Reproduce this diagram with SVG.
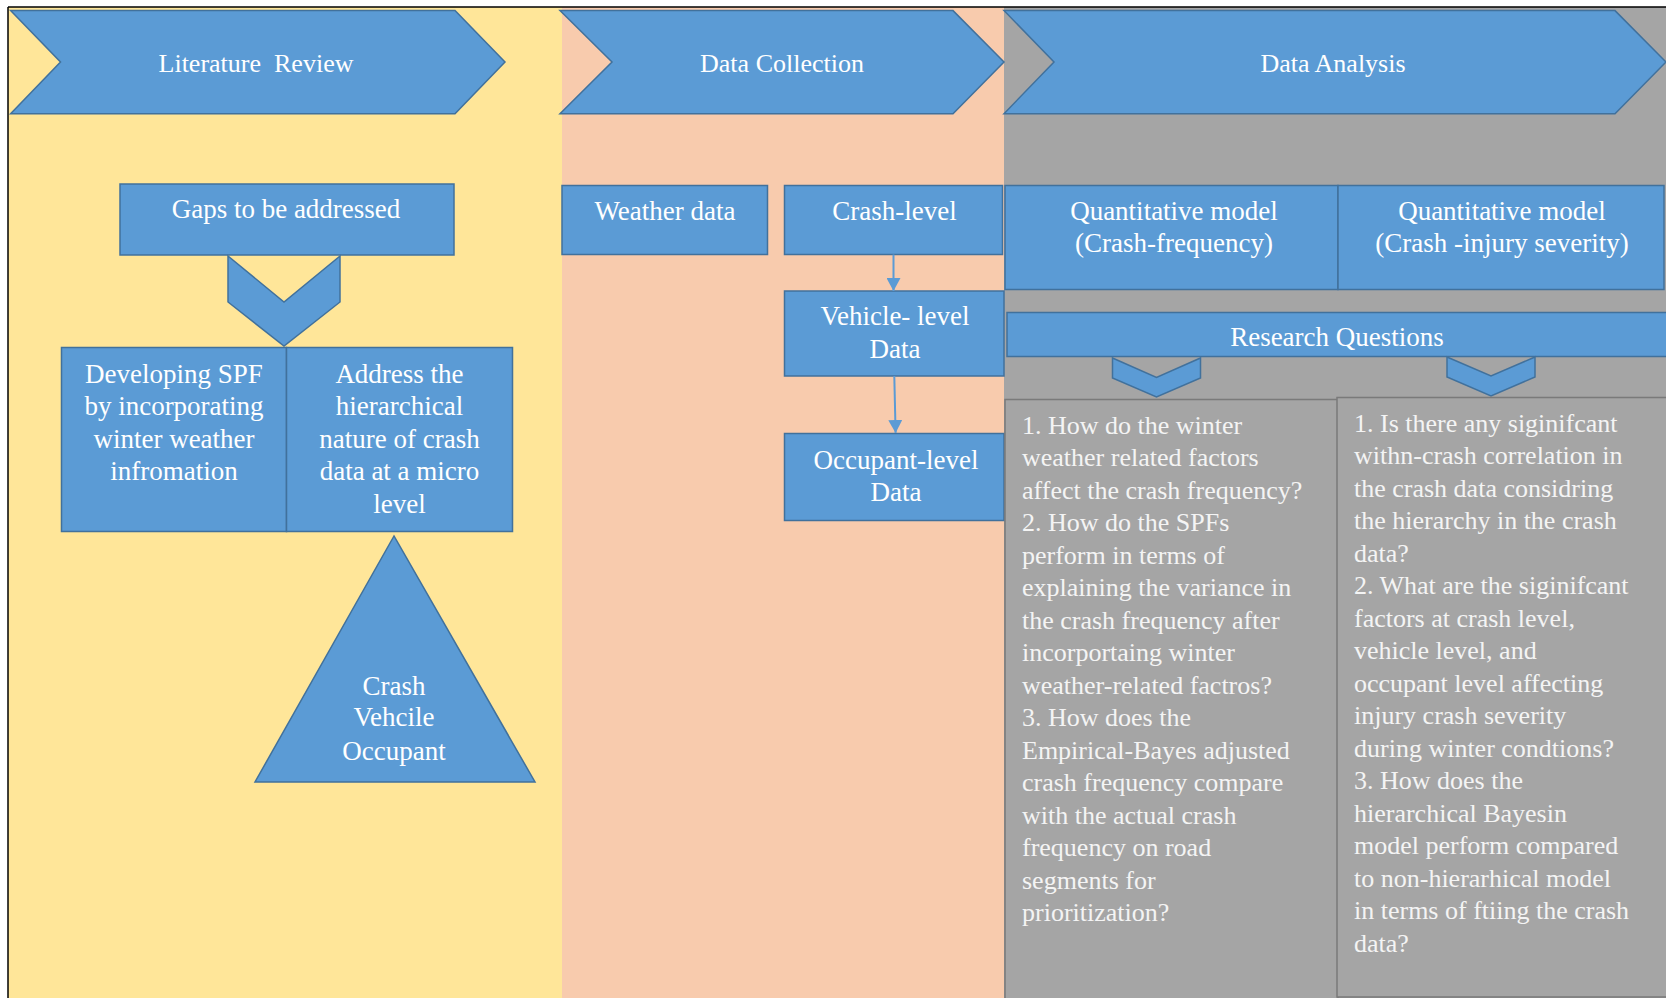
<svg xmlns="http://www.w3.org/2000/svg" width="1666" height="998" viewBox="0 0 1666 998">
<style>
.blue{fill:#5B9BD5;stroke:#41719C;stroke-width:1.5}
.qbox{fill:#A5A5A5;stroke:#7A7A7A;stroke-width:1.5}
.t{font-family:"Liberation Serif","Times New Roman",serif;fill:#FFFFFF;font-size:27px;text-anchor:middle}
.tt{font-family:"Liberation Serif","Times New Roman",serif;fill:#FFFFFF;font-size:26px;text-anchor:middle}
.q{font-family:"Liberation Serif","Times New Roman",serif;fill:#F4F4F4;font-size:26px}
.conn{stroke:#5B9BD5;stroke-width:2;fill:none}
</style>
<defs>
<marker id="ah" markerWidth="14" markerHeight="14" refX="13" refY="7" orient="auto" markerUnits="userSpaceOnUse">
<path d="M0,0 L13,7 L0,14 Z" fill="#5B9BD5"/>
</marker>
</defs>
<rect x="0" y="0" width="1666" height="998" fill="#FFFFFF"/>
<g id="lanes">
<rect x="8" y="7" width="554" height="991" fill="#FFE699"/>
<rect x="562" y="7" width="442" height="991" fill="#F8CBAD"/>
<rect x="1004" y="7" width="662" height="991" fill="#A5A5A5"/>
<line x1="8" y1="7" x2="1666" y2="7" stroke="#000" stroke-width="1.5"/>
<line x1="8" y1="7" x2="8" y2="998" stroke="#000" stroke-width="1.5"/>
</g>
<g id="lit-review">
<polygon class="blue" points="10.6,10.6 455,10.6 505,62 455,113.7 10.6,113.7 60.5,62"/>
<text class="tt" x="256" y="72" xml:space="preserve">Literature  Review</text>
</g>
<g id="data-collection">
<polygon class="blue" points="560,10.6 953,10.6 1004,62 953,113.7 560,113.7 612,62"/>
<text class="tt" x="782" y="72">Data Collection</text>
</g>
<g id="data-analysis">
<polygon class="blue" points="1004,10.6 1615,10.6 1666,62 1615,113.7 1004,113.7 1054,62"/>
<text class="tt" x="1333" y="72">Data Analysis</text>
</g>
<g id="gaps">
<rect class="blue" x="120" y="184" width="334" height="71"/>
<text class="t" x="286" y="218">Gaps to be addressed</text>
</g>
<g id="gaps-chevron">
<polygon class="blue" points="228,256 284,302 340,256 340,302 284,346 228,302"/>
</g>
<g id="spf">
<rect class="blue" x="61.5" y="347.5" width="225" height="184"/>
<text class="t" x="174" y="383">Developing SPF</text>
<text class="t" x="174" y="415">by incorporating</text>
<text class="t" x="174" y="448">winter weather</text>
<text class="t" x="174" y="480">infromation</text>
</g>
<g id="hierarchical">
<rect class="blue" x="286.5" y="347.5" width="226" height="184"/>
<text class="t" x="399.5" y="383">Address the</text>
<text class="t" x="399.5" y="415">hierarchical</text>
<text class="t" x="399.5" y="448">nature of crash</text>
<text class="t" x="399.5" y="480">data at a micro</text>
<text class="t" x="399.5" y="513">level</text>
</g>
<g id="triangle">
<polygon class="blue" points="394,536 255,782 535,782"/>
<text class="t" x="394" y="695">Crash</text>
<text class="t" x="394" y="726">Vehcile</text>
<text class="t" x="394" y="760">Occupant</text>
</g>
<g id="weather">
<rect class="blue" x="562" y="185.5" width="205.5" height="69"/>
<text class="t" x="665" y="220">Weather data</text>
</g>
<g id="crash-level">
<rect class="blue" x="784.5" y="185.5" width="218" height="69"/>
<text class="t" x="894.5" y="220">Crash-level</text>
</g>
<g id="vehicle-level">
<rect class="blue" x="784.5" y="291" width="219.5" height="85"/>
<text class="t" x="895" y="325">Vehicle- level</text>
<text class="t" x="895" y="358">Data</text>
</g>
<g id="occupant-level">
<rect class="blue" x="784.5" y="433.5" width="219.5" height="87"/>
<text class="t" x="896" y="468.5">Occupant-level</text>
<text class="t" x="896" y="500.5">Data</text>
</g>
<g id="qm-frequency">
<rect class="blue" x="1005" y="185.5" width="333" height="104"/>
<text class="t" x="1174" y="220">Quantitative model</text>
<text class="t" x="1174" y="252">(Crash-frequency)</text>
</g>
<g id="qm-severity">
<rect class="blue" x="1338" y="185.5" width="326" height="104"/>
<text class="t" x="1502" y="220">Quantitative model</text>
<text class="t" x="1502" y="252">(Crash -injury severity)</text>
</g>
<g id="research-questions">
<rect class="blue" x="1007" y="312.5" width="665" height="44"/>
<text class="t" x="1337" y="346">Research Questions</text>
</g>
<g id="rq-chevrons">
<polygon class="blue" points="1112.5,358 1156.5,377.5 1200.5,358 1200.5,378 1156.5,397 1112.5,378"/>
<polygon class="blue" points="1447,357 1491,376 1535,357 1535,377 1491,396 1447,377"/>
</g>
<g id="questions-frequency">
<rect class="qbox" x="1005" y="399.5" width="333" height="610"/>
<text class="q" x="1022" y="433.5">1. How do the winter</text>
<text class="q" x="1022" y="466">weather related factors</text>
<text class="q" x="1022" y="498.5">affect the crash frequency?</text>
<text class="q" x="1022" y="531">2. How do the SPFs</text>
<text class="q" x="1022" y="563.5">perform in terms of</text>
<text class="q" x="1022" y="596">explaining the variance in</text>
<text class="q" x="1022" y="628.5">the crash frequency after</text>
<text class="q" x="1022" y="661">incorportaing winter</text>
<text class="q" x="1022" y="693.5">weather-related factros?</text>
<text class="q" x="1022" y="726">3. How does the</text>
<text class="q" x="1022" y="758.5">Empirical-Bayes adjusted</text>
<text class="q" x="1022" y="791">crash frequency compare</text>
<text class="q" x="1022" y="823.5">with the actual crash</text>
<text class="q" x="1022" y="856">frequency on road</text>
<text class="q" x="1022" y="888.5">segments for</text>
<text class="q" x="1022" y="921">prioritization?</text>
</g>
<g id="questions-severity">
<rect class="qbox" x="1337" y="397.5" width="335" height="599.5"/>
<text class="q" x="1354" y="431.5">1. Is there any siginifcant</text>
<text class="q" x="1354" y="464">withn-crash correlation in</text>
<text class="q" x="1354" y="496.5">the crash data considring</text>
<text class="q" x="1354" y="529">the hierarchy in the crash</text>
<text class="q" x="1354" y="561.5">data?</text>
<text class="q" x="1354" y="594">2. What are the siginifcant</text>
<text class="q" x="1354" y="626.5">factors at crash level,</text>
<text class="q" x="1354" y="659">vehicle level, and</text>
<text class="q" x="1354" y="691.5">occupant level affecting</text>
<text class="q" x="1354" y="724">injury crash severity</text>
<text class="q" x="1354" y="756.5">during winter condtions?</text>
<text class="q" x="1354" y="789">3. How does the</text>
<text class="q" x="1354" y="821.5">hierarchical Bayesin</text>
<text class="q" x="1354" y="854">model perform compared</text>
<text class="q" x="1354" y="886.5">to non-hierarhical model</text>
<text class="q" x="1354" y="919">in terms of ftiing the crash</text>
<text class="q" x="1354" y="951.5">data?</text>
</g>
<g id="connectors">
<line class="conn" x1="893.5" y1="254.5" x2="893.5" y2="291" marker-end="url(#ah)"/>
<line class="conn" x1="894.3" y1="376" x2="895.6" y2="433" marker-end="url(#ah)"/>
</g>
</svg>
